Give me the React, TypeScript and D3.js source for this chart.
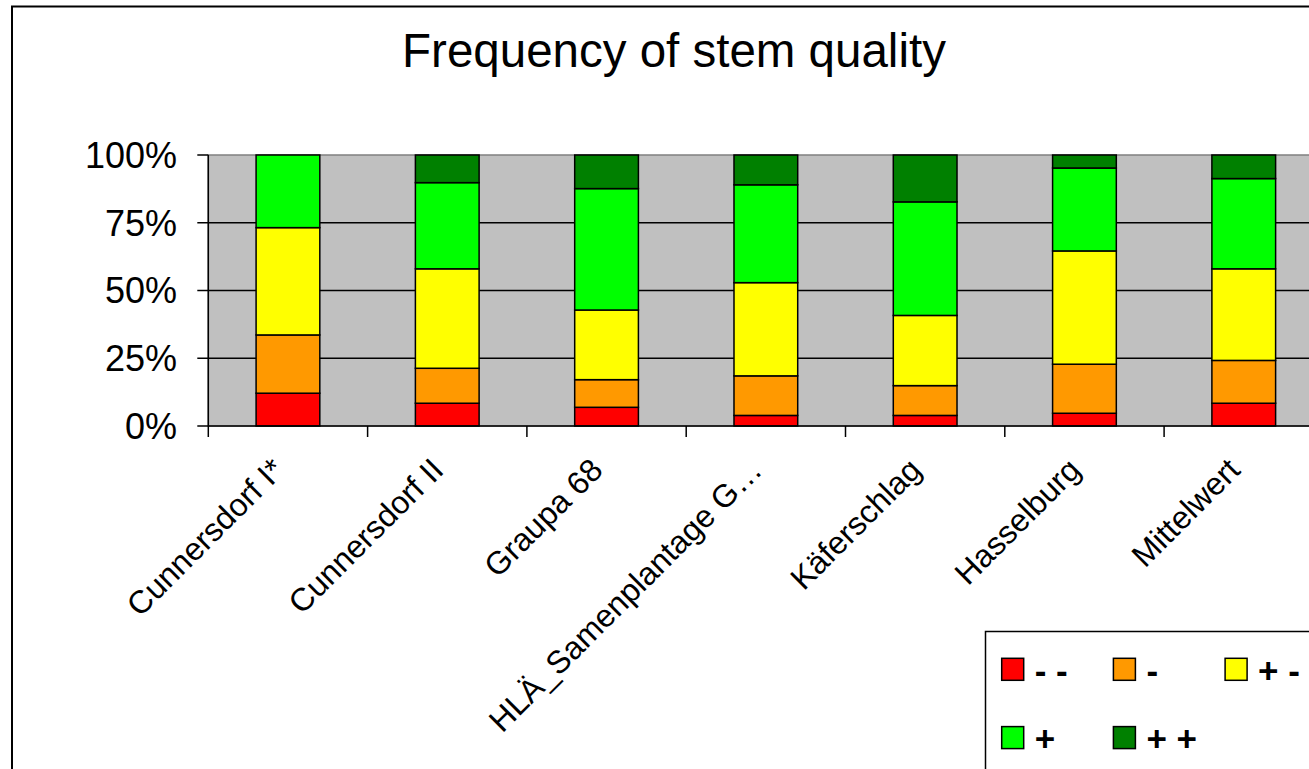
import React from "react";
import * as d3 from "d3";

const categories = [
  "Cunnersdorf I*",
  "Cunnersdorf II",
  "Graupa 68",
  "HLÄ_Samenplantage G…",
  "Käferschlag",
  "Hasselburg",
  "Mittelwert",
];

const seriesKeys = ["- -", "-", "+ -", "+", "+ +"];
const seriesColors = ["#FF0000", "#FF9900", "#FFFF00", "#00FF00", "#008000"];

// percentages per series (in category order)
const vMinusMinus = [12.1, 8.4, 6.9, 3.9, 3.9, 4.7, 8.4];
const vMinus = [21.5, 12.9, 10.2, 14.6, 11.0, 18.1, 15.8];
const vPlusMinus = [39.6, 36.7, 25.7, 34.4, 25.9, 41.8, 33.8];
const vPlus = [26.8, 31.8, 44.8, 36.1, 41.9, 30.6, 33.3];
const vPlusPlus = [0, 10.2, 12.4, 11.0, 17.3, 4.8, 8.7];

const yTicks = [0, 0.25, 0.5, 0.75, 1];
const title = "Frequency of stem quality";

const FONT = "'Liberation Sans', Arial, Helvetica, sans-serif";

export default function App() {
  const W = 1309;
  const H = 769;
  const plotLeft = 208.3;
  const step = 159.3;
  const plotRight = plotLeft + step * categories.length;
  const plotTop = 155;
  const plotBottom = 426;

  const rows = categories.map((c, i) => ({
    cat: c,
    "- -": vMinusMinus[i],
    "-": vMinus[i],
    "+ -": vPlusMinus[i],
    "+": vPlus[i],
    "+ +": vPlusPlus[i],
  }));

  const stack = d3
    .stack<any>()
    .keys(seriesKeys)
    .offset(d3.stackOffsetExpand);
  const stacked = stack(rows);

  const x = d3
    .scaleBand<string>()
    .domain(categories)
    .range([plotLeft, plotRight])
    .paddingInner(0.6)
    .paddingOuter(0.3);

  const y = d3.scaleLinear().domain([0, 1]).range([plotBottom, plotTop]);
  const fmt = d3.format(".0%");

  const boundaries = d3.range(categories.length + 1).map((i) => plotLeft + i * step);

  const legendX = 985.5;
  const legendY = 631.5;
  const colW = 111.7;
  const rowH = 68.3;

  return (
    <div style={{ position: "absolute", left: 0, top: 0 }}>
      <svg width={W} height={H} style={{ display: "block", background: "#fff" }}>
        {/* chart border */}
        <rect x={12} y={6.5} width={1330} height={800} fill="#fff" stroke="#000" strokeWidth={2} />

        {/* title */}
        <text x={674} y={67} textAnchor="middle" fontFamily={FONT} fontSize={47.5} fill="#000">
          {title}
        </text>

        {/* plot area */}
        <rect
          x={plotLeft}
          y={plotTop}
          width={plotRight - plotLeft}
          height={plotBottom - plotTop}
          fill="#C0C0C0"
          stroke="#808080"
          strokeWidth={1.5}
        />
        {/* gridlines */}
        {yTicks
          .filter((t) => t > 0 && t < 1)
          .map((t) => (
            <line key={t} x1={plotLeft} x2={plotRight} y1={y(t)} y2={y(t)} stroke="#000" strokeWidth={1.3} />
          ))}

        {/* bars */}
        {stacked.map((layer, si) => (
          <g key={layer.key}>
            {layer.map((d, ci) => {
              const h = y(d[0]) - y(d[1]);
              if (h <= 0.01) return null;
              return (
                <rect
                  key={ci}
                  x={x(categories[ci])}
                  y={y(d[1])}
                  width={x.bandwidth()}
                  height={h}
                  fill={seriesColors[si]}
                  stroke="#000"
                  strokeWidth={1.5}
                />
              );
            })}
          </g>
        ))}

        {/* y axis */}
        <line x1={plotLeft} x2={plotLeft} y1={plotTop} y2={plotBottom} stroke="#000" strokeWidth={1.5} />
        {yTicks.map((t) => (
          <g key={t}>
            <line x1={plotLeft - 11} x2={plotLeft} y1={y(t)} y2={y(t)} stroke="#000" strokeWidth={1.5} />
            <text x={177} y={y(t) + 12.8} textAnchor="end" fontFamily={FONT} fontSize={36} fill="#000">
              {fmt(t)}
            </text>
          </g>
        ))}

        {/* x axis */}
        <line x1={plotLeft} x2={plotRight} y1={plotBottom} y2={plotBottom} stroke="#000" strokeWidth={1.5} />
        {boundaries.map((bx, i) => (
          <line key={i} x1={bx} x2={bx} y1={plotBottom} y2={plotBottom + 11} stroke="#000" strokeWidth={1.5} />
        ))}
        {categories.map((c) => {
          const cx = (x(c) as number) + x.bandwidth() / 2;
          return (
            <text
              key={c}
              transform={`translate(${cx - 2},${472}) rotate(-45)`}
              textAnchor="end"
              fontFamily={FONT}
              fontSize={32}
              fill="#000"
            >
              {c}
            </text>
          );
        })}

        {/* legend */}
        <rect x={legendX} y={legendY} width={400} height={200} fill="#fff" stroke="#000" strokeWidth={1.5} />
        {seriesKeys.map((k, i) => {
          const col = i % 3;
          const row = Math.floor(i / 3);
          const sx = 1001.7 + col * colW;
          const sy = 658.3 + row * rowH;
          return (
            <g key={k}>
              <rect x={sx} y={sy} width={22} height={22} fill={seriesColors[i]} stroke="#000" strokeWidth={1.5} />
              <text x={sx + 33} y={sy + 24.5} fontFamily={FONT} fontSize={35} fontWeight="bold" fill="#000">
                {k}
              </text>
            </g>
          );
        })}
      </svg>
    </div>
  );
}
